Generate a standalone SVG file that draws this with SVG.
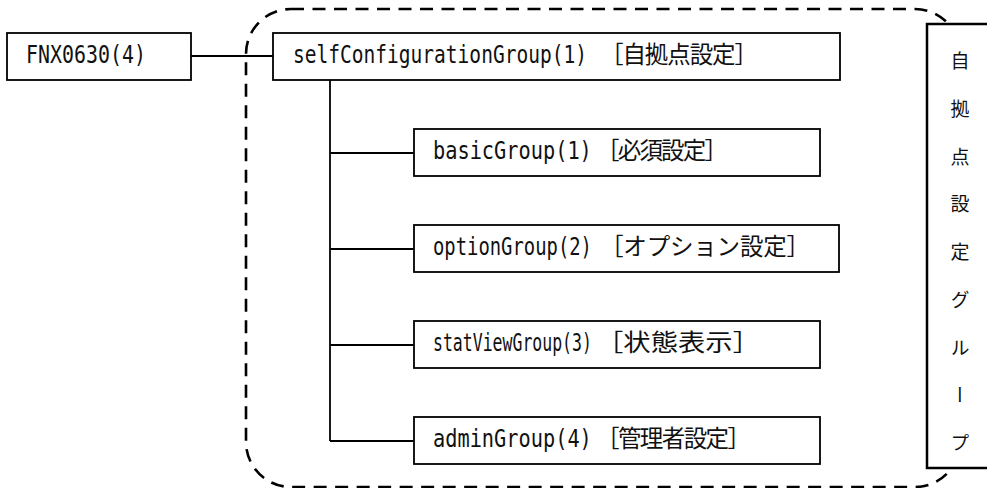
<svg xmlns="http://www.w3.org/2000/svg" width="987" height="488" viewBox="0 0 987 488">
<style>
.box{fill:#fff;stroke:#000;stroke-width:1.8}
.ln{fill:none;stroke:#000;stroke-width:1.8}
.asc{font-family:"DejaVu Sans Mono","Liberation Mono",monospace;font-size:24px;fill:#111}
.cjk{font-family:"Noto Sans CJK JP",sans-serif;font-size:23.5px;fill:#111}
.vert{font-family:"Noto Sans CJK JP",sans-serif;font-size:19px;fill:#111;writing-mode:vertical-rl;letter-spacing:28.75px}
</style>
<rect width="987" height="488" fill="#fff"/>
<rect id="group-frame" x="246" y="9" width="714" height="478" rx="45" ry="45" fill="none" stroke="#000" stroke-width="2.6" stroke-dasharray="13 8.5"/>
<g id="connectors" class="ln">
<line x1="191" y1="56" x2="273" y2="56"/>
<line x1="330" y1="80" x2="330" y2="441"/>
<line x1="330" y1="153" x2="414" y2="153"/>
<line x1="330" y1="249" x2="414" y2="249"/>
<line x1="330" y1="345" x2="414" y2="345"/>
<line x1="330" y1="441" x2="414" y2="441"/>
</g>
<g id="fnx">
<rect class="box" x="7" y="33" width="184" height="47"/>
<text class="asc" transform="translate(26,63) scale(0.83,1)">FNX0630(4)</text>
</g>
<g id="selfConfigurationGroup">
<rect class="box" x="273" y="33" width="567" height="47"/>
<text class="asc" transform="translate(293,63) scale(0.814,1)">selfConfigurationGroup(1)</text>
<text class="cjk" x="600" y="63" textLength="158" lengthAdjust="spacing">［自拠点設定］</text>
</g>
<g id="basicGroup">
<rect class="box" x="414" y="129" width="406" height="47"/>
<text class="asc" transform="translate(433,159) scale(0.846,1)">basicGroup(1)</text>
<text class="cjk" x="596" y="159" textLength="132" lengthAdjust="spacing">［必須設定］</text>
</g>
<g id="optionGroup">
<rect class="box" x="414" y="225" width="425" height="47"/>
<text class="asc" transform="translate(433,255) scale(0.786,1)">optionGroup(2)</text>
<text class="cjk" x="600" y="255" textLength="210" lengthAdjust="spacing">［オプション設定］</text>
</g>
<g id="statViewGroup">
<rect class="box" x="414" y="321" width="406" height="47"/>
<text class="asc" transform="translate(433,351) scale(0.688,1)">statViewGroup(3)</text>
<text class="cjk" x="596" y="351" textLength="164" lengthAdjust="spacingAndGlyphs">［状態表示］</text>
</g>
<g id="adminGroup">
<rect class="box" x="414" y="417" width="406" height="47"/>
<text class="asc" transform="translate(433,447) scale(0.846,1)">adminGroup(4)</text>
<text class="cjk" x="596" y="447" textLength="155" lengthAdjust="spacing">［管理者設定］</text>
</g>
<g id="group-label">
<rect x="927" y="24" width="80" height="444" fill="#fff" stroke="#000" stroke-width="2.5"/>
<text class="vert" x="960" y="51.5">自拠点設定グループ</text>
</g>
</svg>
